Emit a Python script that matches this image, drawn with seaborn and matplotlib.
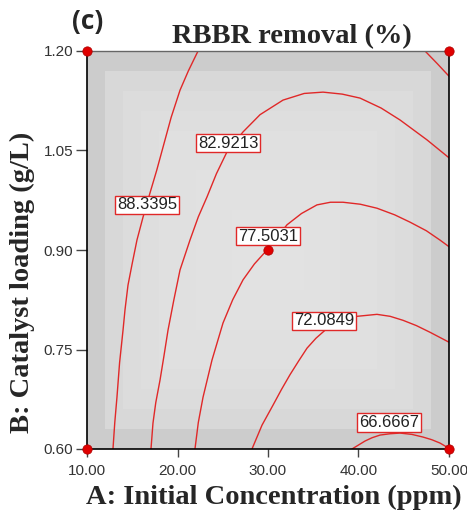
import numpy as np
import pandas as pd
import matplotlib
matplotlib.use('Agg')
import matplotlib.pyplot as plt
import seaborn as sns

# contour levels of RBBR removal (%)
levels = [88.3395, 82.9213, 77.5031, 72.0849, 66.6667]

# traced contour lines (A: ppm, B: g/L)
c88_A = [22.27, 21.2, 20.28, 19.3, 18.62, 17.7, 16.96, 16.2, 15.52, 15.0, 14.53, 14.2,
         13.98, 13.6, 13.31, 13.07, 12.87]
c88_B = [1.200, 1.170, 1.141, 1.100, 1.066, 1.020, 0.986, 0.950, 0.915, 0.880, 0.847, 0.810,
         0.779, 0.730, 0.678, 0.640, 0.600]
c88b_A = [47.35, 48.7, 50.0]
c88b_B = [1.200, 1.181, 1.162]
c83_A = [17.07, 17.29, 17.6, 18.07, 18.5, 18.95, 19.6, 20.28, 21.38, 22.3, 23.26, 24.3,
         25.47, 27.24, 29.12, 31.66, 34.0, 36.08, 38.2, 40.17, 42.5, 44.59, 47.57, 50.0]
c83_B = [0.600, 0.639, 0.670, 0.704, 0.740, 0.779, 0.825, 0.870, 0.915, 0.950, 0.980, 1.015,
         1.048, 1.078, 1.104, 1.126, 1.136, 1.138, 1.135, 1.129, 1.114, 1.096, 1.066, 1.039]
c77_A = [21.93, 22.3, 22.82, 23.81, 25.03, 26.1, 27.24, 28.5, 29.89, 32.10, 33.7, 35.41,
         36.9, 38.29, 40.2, 42.04, 44.0, 45.69, 47.5, 49.0, 50.0]
c77_B = [0.600, 0.640, 0.678, 0.734, 0.790, 0.825, 0.855, 0.879, 0.900, 0.938, 0.955, 0.968,
         0.972, 0.972, 0.969, 0.963, 0.953, 0.942, 0.929, 0.915, 0.905]
c72_A = [28.23, 29.34, 30.55, 31.5, 32.43, 33.4, 34.31, 35.3, 36.30, 37.96, 39.83, 42.04,
         43.5, 44.92, 46.4, 47.90, 50.0]
c72_B = [0.600, 0.636, 0.666, 0.690, 0.712, 0.733, 0.752, 0.767, 0.779, 0.791, 0.800, 0.803,
         0.800, 0.794, 0.786, 0.776, 0.761]
c67_A = [39.28, 40.0, 40.72, 41.5, 42.38, 43.5, 44.59, 45.9, 47.13, 48.1, 49.0, 50.0]
c67_B = [0.600, 0.606, 0.612, 0.617, 0.621, 0.623, 0.624, 0.622, 0.618, 0.614, 0.609, 0.601]

# label positions
lab_A = [16.63, 25.58, 30.0, 36.19, 43.37]
lab_B = [0.968, 1.061, 0.921, 0.793, 0.640]

# design points
pts_A = [10, 50, 10, 50, 30]
pts_B = [0.6, 0.6, 1.2, 1.2, 0.9]

xticks = [10, 20, 30, 40, 50]
yticks = [0.60, 0.75, 0.90, 1.05, 1.20]

segs = [('88a', c88_A, c88_B), ('88b', c88b_A, c88b_B), ('83', c83_A, c83_B),
        ('77', c77_A, c77_B), ('72', c72_A, c72_B), ('67', c67_A, c67_B)]
rows = []
for name, xs, ys in segs:
    for i, (a, b) in enumerate(zip(xs, ys)):
        rows.append({'seg': name, 'order': i, 'A': a, 'B': b})
df = pd.DataFrame(rows)

sns.set_style('white')
plt.rcParams['font.family'] = ['Liberation Sans', 'DejaVu Sans']

fig = plt.figure(figsize=(4.67, 5.14), dpi=100)
ax = fig.add_axes([87 / 467, 1 - 449 / 514, 362 / 467, 398 / 514])

# blocky grey shading (darker towards the border)
ring = [0.80, 0.845, 0.862, 0.870, 0.875, 0.878, 0.880, 0.882, 0.883, 0.884]
prof = np.array(ring + ring[::-1])
bg = np.minimum(prof[:, None], prof[None, :])
ax.imshow(bg, cmap='gray', vmin=0, vmax=1, extent=[10, 50, 0.6, 1.2],
          aspect='auto', interpolation='nearest', zorder=0)

red = '#e02828'
sns.lineplot(data=df, x='A', y='B', units='seg', estimator=None, sort=False,
             color=red, lw=1.0, ax=ax, zorder=2)

for a, b, lv in zip(lab_A, lab_B, levels):
    ax.text(a, b, f'{lv:.4f}', ha='center', va='center', fontsize=12, color='#222222',
            zorder=4, bbox=dict(boxstyle='square,pad=0.1', fc='white', ec=red, lw=1.0))

sns.scatterplot(x=pts_A, y=pts_B, color='#e00000', edgecolor='#b00000', s=45,
                ax=ax, zorder=5, clip_on=False)

ax.set_xlim(10, 50)
ax.set_ylim(0.6, 1.2)
ax.set_xticks(xticks)
ax.set_xticklabels([f'{v:.2f}' for v in xticks])
ax.set_yticks(yticks)
ax.set_yticklabels([f'{v:.2f}' for v in yticks])
ax.tick_params(axis='x', direction='out', length=6, width=1, color='#444444',
               pad=5, labelsize=11, labelcolor='#333333', bottom=True)
ax.tick_params(axis='y', direction='out', length=8, width=1, color='#444444',
               pad=2, labelsize=11, labelcolor='#333333', left=True)
ax.set_xlabel('')
ax.set_ylabel('')
for side in ['left', 'bottom', 'right']:
    ax.spines[side].set_color('black')
    ax.spines[side].set_linewidth(1.2)
ax.spines['top'].set_color('#666666')
ax.spines['top'].set_linewidth(1.0)

serif = ['Liberation Serif', 'DejaVu Serif']
fig.text(274 / 467, 1 - 497 / 514, 'A: Initial Concentration (ppm)', ha='center', va='center',
         fontsize=20.5, fontweight='bold', family=serif)
fig.text(22 / 467, 1 - 282 / 514, 'B: Catalyst loading (g/L)', ha='center', va='center',
         rotation=90, fontsize=20.5, fontweight='bold', family=serif)
fig.text(292 / 467, 1 - 37 / 514, 'RBBR removal (%)', ha='center', va='center',
         fontsize=20.5, fontweight='bold', family=serif)
fig.text(88 / 467, 1 - 22 / 514, '(c)', ha='center', va='center',
         fontsize=19, fontweight='bold', family=['Open Sans', 'DejaVu Sans'])

fig.savefig('out.png', dpi=100)
